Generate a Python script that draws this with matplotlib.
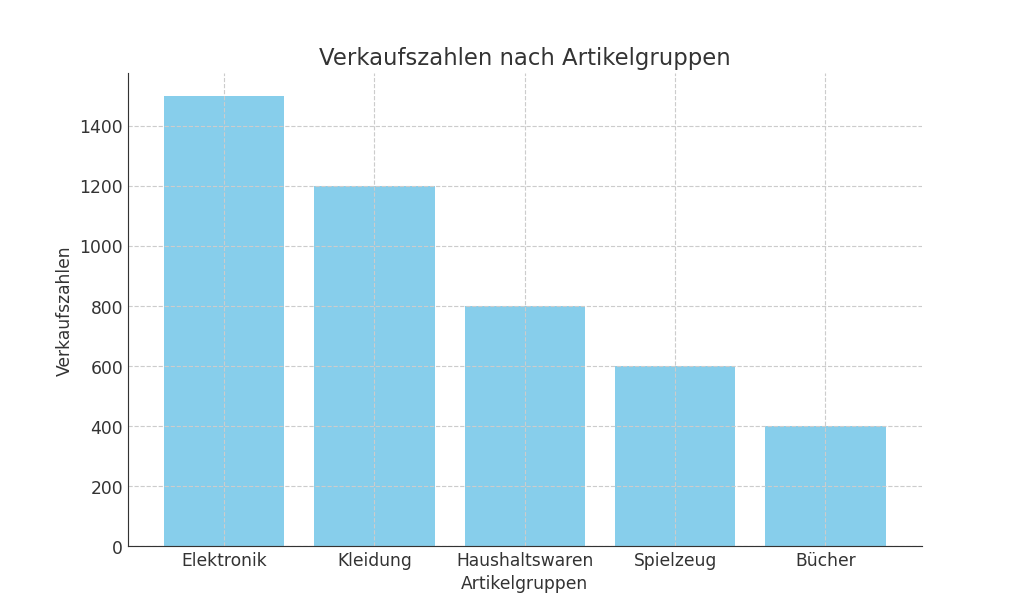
import matplotlib
matplotlib.use("Agg")
import matplotlib.pyplot as plt

categories = ["Elektronik", "Kleidung", "Haushaltswaren", "Spielzeug", "Bücher"]
sales = [1500, 1200, 800, 600, 400]

text_color = "#333333"
plt.rcParams.update(
    {
        "font.family": "DejaVu Sans",
        "font.size": 12,
        "text.color": text_color,
        "axes.labelcolor": text_color,
        "xtick.color": text_color,
        "ytick.color": text_color,
        "axes.edgecolor": text_color,
    }
)

fig, ax = plt.subplots(figsize=(10, 6), dpi=102.4)
ax.bar(categories, sales, color="skyblue", width=0.8)

ax.set_title("Verkaufszahlen nach Artikelgruppen", fontsize=16)
ax.set_xlabel("Artikelgruppen")
ax.set_ylabel("Verkaufszahlen")
ax.grid(True, linestyle="--", color="#cccccc", linewidth=0.8)
ax.tick_params(length=0)
ax.spines["top"].set_visible(False)
ax.spines["right"].set_visible(False)

fig.savefig("out.png", dpi=102.4)
